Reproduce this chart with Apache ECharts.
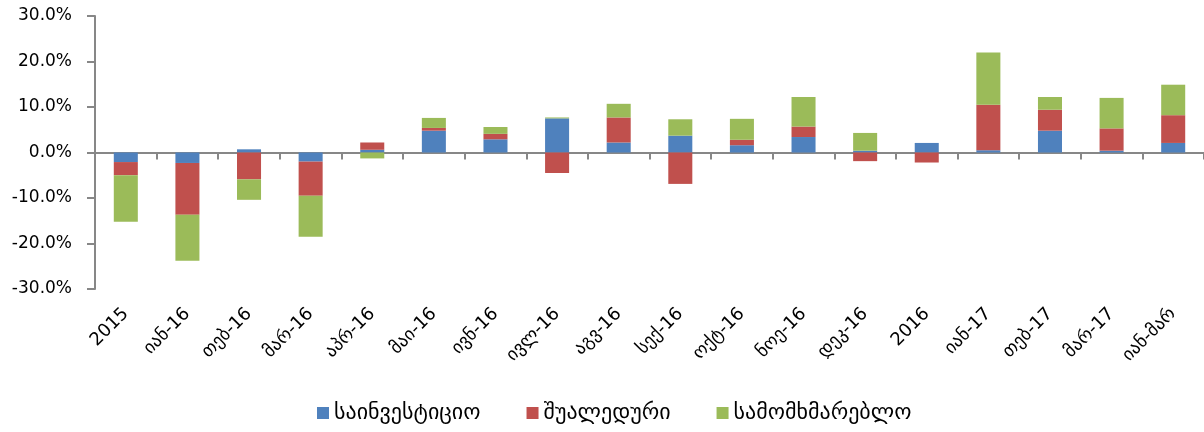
<!DOCTYPE html>
<html>
<head>
<meta charset="utf-8">
<script src="https://cdn.jsdelivr.net/npm/echarts@6/dist/echarts.min.js"></script>
<style>
  html, body { margin: 0; padding: 0; background: #fff; }
  #chart { width: 1204px; height: 432px; }
</style>
</head>
<body>
<div id="chart"></div>
<script>
// კატეგორიები
var categories = ['2015', 'იან-16', 'თებ-16', 'მარ-16', 'აპრ-16', 'მაი-16', 'ივნ-16', 'ივლ-16', 'აგვ-16',
  'სექ-16', 'ოქტ-16', 'ნოე-16', 'დეკ-16', '2016', 'იან-17', 'თებ-17', 'მარ-17', 'იან-მარ']

// values, percent
var investment = [-2.1, -2.3, 0.7, -2.0, 0.6, 4.8, 2.9, 7.5, 2.2, 3.7, 1.6, 3.4, 0.4, 2.1, 0.5, 4.8, 0.4, 2.1]
var intermediate = [-2.9, -11.4, -5.9, -7.5, 1.6, 0.6, 1.2, -4.5, 5.5, -6.9, 1.2, 2.3, -1.9, -2.2, 10.0, 4.6, 4.9, 6.1]
var consumer = [-10.2, -10.1, -4.5, -9.0, -1.3, 2.2, 1.5, 0.2, 3.0, 3.6, 4.6, 6.5, 3.9, 0, 11.5, 2.8, 6.7, 6.7]

var seriesNames = ['საინვესტიციო', 'შუალედური', 'სამომხმარებლო']
var yTicks = [-30, 30, 10]

var font = '"DejaVu Sans", sans-serif'
var axisGray = '#878787'

var chart = echarts.init(document.getElementById('chart'))

function bar(name, data, color) {
  return {
    name: name,
    type: 'bar',
    stack: 'total',
    barWidth: '39%',
    data: data,
    itemStyle: { color: color },
    animation: false
  }
}

chart.setOption({
  color: ['#4F81BD', '#C0504D', '#9BBB59'],
  textStyle: { fontFamily: font },
  grid: {
    left: 95,
    right: -2,
    top: 16,
    bottom: 143
  },
  legend: {
    bottom: 3,
    left: 312,
    itemWidth: 12,
    itemHeight: 12,
    itemGap: 46,
    icon: 'rect',
    textStyle: { fontSize: 22, color: '#000', fontFamily: font },
    data: seriesNames
  },
  xAxis: [{
    // zero line with ticks
    type: 'category',
    data: categories,
    axisLine: { onZero: true, lineStyle: { color: axisGray, width: 2 } },
    axisTick: { show: true, length: 7, inside: false, lineStyle: { color: axisGray, width: 2 } },
    axisLabel: { show: false },
    splitLine: { show: false }
  }, {
    // labels along the bottom
    type: 'category',
    data: categories,
    position: 'bottom',
    axisLine: { show: false, onZero: false },
    axisTick: { show: false },
    axisLabel: {
      rotate: 45,
      margin: 22,
      fontSize: 18,
      color: '#000',
      fontFamily: font,
      interval: 0
    }
  }],
  yAxis: {
    type: 'value',
    min: yTicks[0],
    max: yTicks[1],
    interval: yTicks[2],
    axisLine: { show: true, lineStyle: { color: axisGray, width: 2 } },
    axisTick: { show: true, length: 8, lineStyle: { color: axisGray, width: 2 } },
    splitLine: { show: false },
    axisLabel: {
      fontSize: 17,
      color: '#000',
      margin: 23,
      formatter: function (v) { return v.toFixed(1) + '%' }
    }
  },
  series: [
    bar(seriesNames[0], investment, '#4F81BD'),
    bar(seriesNames[1], intermediate, '#C0504D'),
    bar(seriesNames[2], consumer, '#9BBB59')
  ]
})
</script>
</body>
</html>
